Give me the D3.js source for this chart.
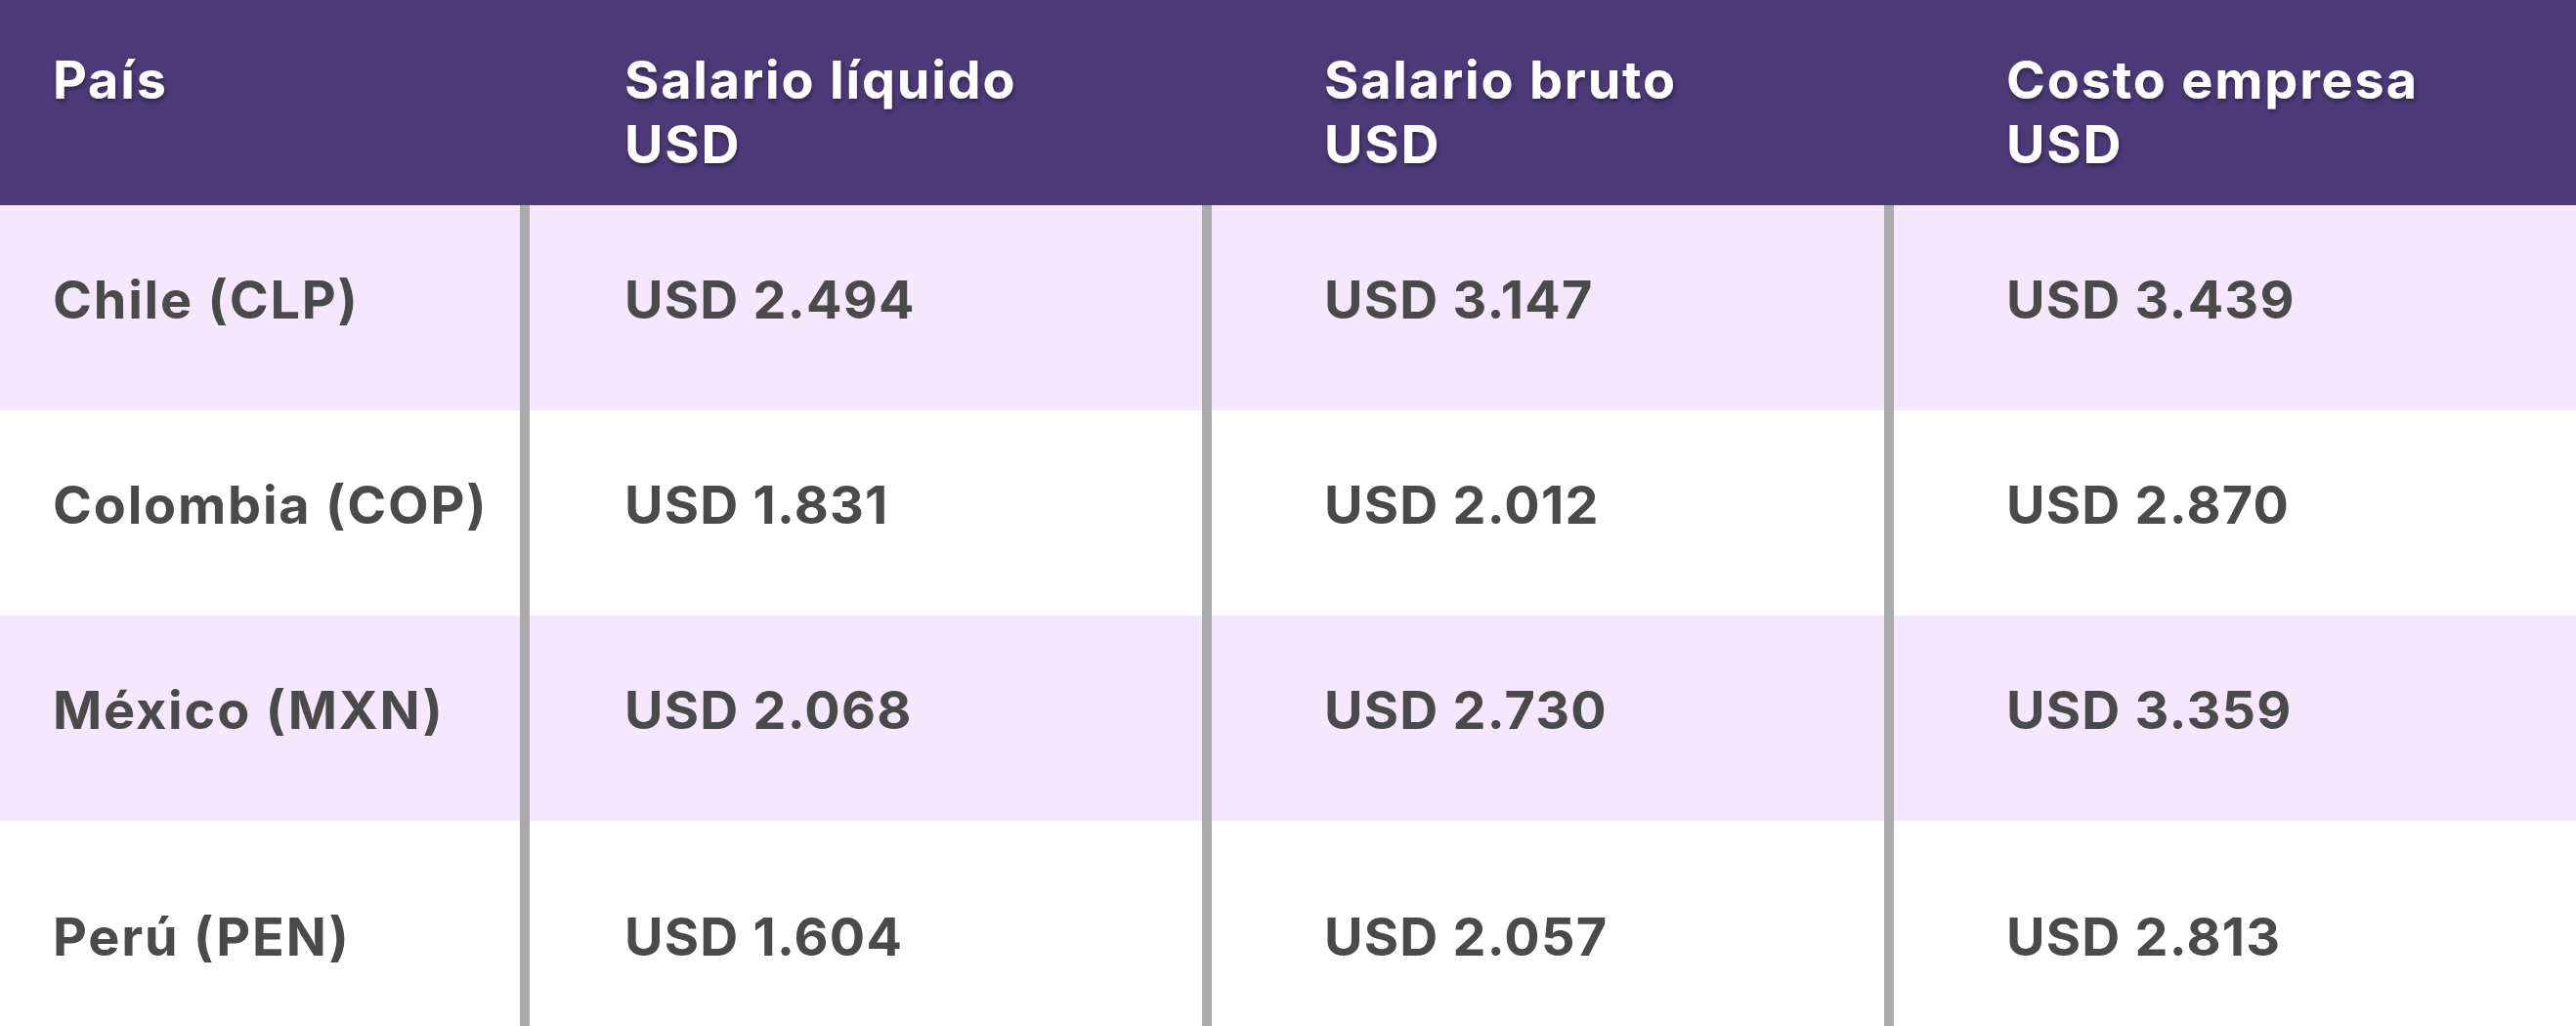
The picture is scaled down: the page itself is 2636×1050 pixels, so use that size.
<!DOCTYPE html>
<meta charset="utf-8">
<div id="chart"></div>
<style>
body { margin: 0; background: #fff; }
text { font-family: 'Inter', 'Open Sans', sans-serif; font-weight: 700; }
</style>
<script src="https://d3js.org/d3.v7.min.js"></script>
<script>
// table content
var headers = [
  ['País'],
  ['Salario líquido', 'USD'],
  ['Salario bruto', 'USD'],
  ['Costo empresa', 'USD']
];
var countries = ['Chile (CLP)', 'Colombia (COP)', 'México (MXN)', 'Perú (PEN)'];
var liquido = [2494, 1831, 2068, 1604];
var bruto = [3147, 2012, 2730, 2057];
var costo = [3439, 2870, 3359, 2813];

var w = 2636, h = 1050;
var headH = 210;

var fmt = function(v) {
  return 'USD ' + d3.format(',')(v).replace(/,/g, '.');
};

var rows = countries.map(function(c, i) {
  return [c, fmt(liquido[i]), fmt(bruto[i]), fmt(costo[i])];
});

var y = d3.scaleBand()
  .domain(d3.range(countries.length))
  .range([headH, h]);

var colX = d3.scaleOrdinal()
  .domain(d3.range(4))
  .range([54, 639, 1355, 2053]);

var sepX = d3.scaleOrdinal()
  .domain(d3.range(3))
  .range([532, 1230, 1928]);

var svg = d3.select('#chart')
  .append('svg')
    .attr('width', w)
    .attr('height', h);

var defs = svg.append('defs');
defs.append('filter')
    .attr('id', 'shadow')
    .attr('x', '-5%').attr('y', '-20%')
    .attr('width', '110%').attr('height', '150%')
  .append('feDropShadow')
    .attr('dx', 1)
    .attr('dy', 3)
    .attr('stdDeviation', 2)
    .attr('flood-color', '#000')
    .attr('flood-opacity', 0.35);

// header band
svg.append('rect')
  .attr('width', w)
  .attr('height', headH)
  .attr('fill', '#4b3978');

// striped rows
svg.selectAll('.row')
  .data(rows)
  .enter()
  .append('rect')
    .attr('class', 'row')
    .attr('x', 0)
    .attr('y', function(d, i) { return y(i); })
    .attr('width', w)
    .attr('height', y.bandwidth())
    .attr('fill', function(d, i) { return i % 2 === 0 ? '#f5e7fe' : '#ffffff'; });

// column separators
svg.selectAll('.sep')
  .data(d3.range(3))
  .enter()
  .append('rect')
    .attr('class', 'sep')
    .attr('x', function(d) { return sepX(d); })
    .attr('y', headH)
    .attr('width', 10)
    .attr('height', h - headH)
    .attr('fill', '#aaaaaa');

// header labels
var head = svg.selectAll('.head')
  .data(headers)
  .enter()
  .append('text')
    .attr('class', 'head')
    .attr('x', function(d, i) { return colX(i); })
    .attr('y', 101)
    .attr('fill', '#ffffff')
    .attr('filter', 'url(#shadow)')
    .style('font-size', '54px')
    .style('letter-spacing', '1.8px');

head.selectAll('tspan')
  .data(function(d) { return d; })
  .enter()
  .append('tspan')
    .attr('x', function() { return d3.select(this.parentNode).attr('x'); })
    .attr('dy', function(d, i) { return i === 0 ? 0 : 66; })
    .text(function(d) { return d; });

// body cells
var last = countries.length - 1;
svg.selectAll('.rowtext')
  .data(rows)
  .enter()
  .append('g')
    .attr('class', 'rowtext')
    .attr('transform', function(d, i) {
      var off = i === last ? 138 : 116;
      return 'translate(0,' + (y(i) + off) + ')';
    })
  .selectAll('text')
  .data(function(d) { return d; })
  .enter()
  .append('text')
    .attr('x', function(d, i) { return colX(i); })
    .attr('fill', '#4a4a4a')
    .style('font-size', '54px')
    .style('letter-spacing', function(d, i) { return i === 0 ? '1.8px' : '1.2px'; })
    .text(function(d) { return d; });
</script>
